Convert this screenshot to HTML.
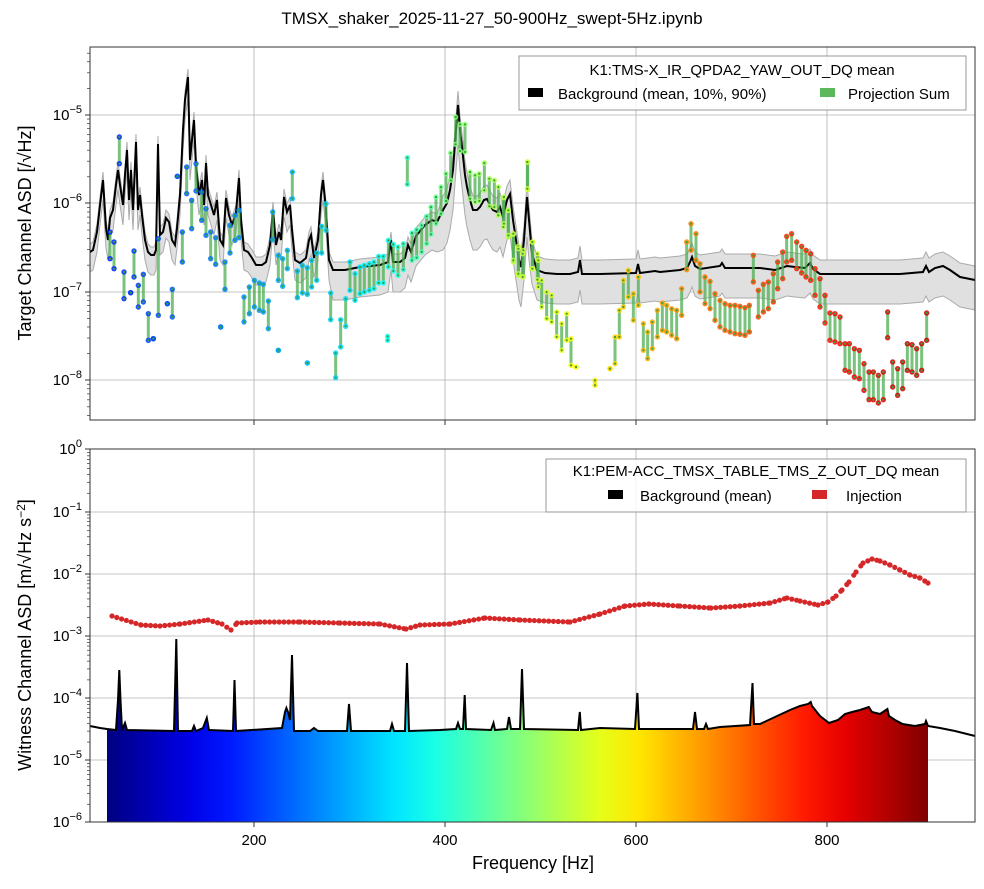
<!DOCTYPE html>
<html><head><meta charset="utf-8"><style>
body{margin:0;background:#fff;}
svg text{font-family:"Liberation Sans",Arial,sans-serif;}
</style></head><body>
<svg id="s" width="984" height="884" viewBox="0 0 984 884" xmlns="http://www.w3.org/2000/svg"></svg>
<script>
const S=document.getElementById('s');
let h='';
function jet(t){t=Math.max(0,Math.min(1,t));
 const c=v=>Math.round(255*Math.max(0,Math.min(1,v)));
 return `rgb(${c(Math.min(4*t-1.5,-4*t+4.5))},${c(Math.min(4*t-0.5,-4*t+3.5))},${c(Math.min(4*t+0.5,-4*t+2.5))})`;}
const CP=[[90,0.14],[100,0.15],[380,0.37],[450,0.5],[600,0.65],[720,0.78],[900,0.92],[980,0.95]];
function tx(x){for(let i=0;i<CP.length-1;i++){const [a,ta]=CP[i],[b,tb]=CP[i+1];if(x<=b)return ta+(tb-ta)*(x-a)/(b-a);}return 0.95;}
const jx=x=>jet(tx(x));
h+='<text x="492" y="24" font-size="17" text-anchor="middle">TMSX_shaker_2025-11-27_50-900Hz_swept-5Hz.ipynb</text>';
function grid(y0,y1,ys){let g='';
 [254,445,636,827].forEach(x=>g+=`<line x1="${x}" y1="${y0}" x2="${x}" y2="${y1}" stroke="#b0b0b0" stroke-width="0.8"/>`);
 ys.forEach(y=>g+=`<line x1="90" y1="${y}" x2="975" y2="${y}" stroke="#b0b0b0" stroke-width="0.8"/>`);return g;}
h+=grid(47,420,[115,203,292,380]);
h+=grid(449,822,[512,574,636,698,760]);
const M=[[90,252],[93,250],[97,232],[100,205],[103,180],[106,228],[108,240],[110,218],[113,210],[116,185],[118,170],[120,185],[123,205],[125,175],[127,150],[129,200],[131,170],[133,210],[136,142],[138,210],[140,195],[142,215],[145,240],[148,252],[151,255],[154,255],[156,250],[158,144],[160,235],[163,232],[166,218],[169,222],[172,240],[175,245],[177,228],[180,195],[183,130],[185,100],[188,77],[190,160],[192,140],[194,120],[196,165],[199,195],[202,180],[204,205],[206,163],[208,195],[211,205],[214,215],[217,200],[220,240],[223,245],[226,198],[229,215],[232,225],[236,213],[239,178],[241,220],[244,250],[248,252],[252,258],[256,265],[262,265],[266,262],[270,245],[273,210],[276,245],[279,232],[281,240],[284,197],[287,212],[290,205],[292,230],[295,260],[300,263],[306,258],[309,240],[311,235],[314,258],[318,240],[321,195],[323,180],[326,210],[329,260],[333,270],[345,270],[360,267],[380,265],[388,262],[391,240],[393,262],[400,262],[405,258],[408,245],[411,252],[416,236],[425,225],[432,220],[437,222],[443,210],[447,203],[450,190],[453,170],[456,130],[458,105],[460,130],[462,147],[465,175],[467,187],[470,200],[473,210],[477,210],[480,207],[484,200],[487,199],[490,205],[493,210],[497,212],[500,207],[503,217],[507,200],[510,194],[513,220],[516,240],[519,260],[521,267],[524,240],[527,197],[529,220],[532,254],[537,270],[545,273],[557,274],[570,274],[578,272],[580,260],[582,274],[600,274],[636,273],[638,264],[640,273],[655,271],[660,272],[680,270],[687,268],[690,262],[692,257],[695,266],[700,269],[720,266],[722,263],[725,268],[760,268],[775,270],[787,266],[795,267],[805,268],[810,263],[813,269],[820,274],[900,274],[923,272],[926,266],[929,272],[935,268],[943,266],[950,270],[960,277],[975,280]];
const up=M.map(([x,y])=>[x,y-(x<440?8:14)]);
const lo=M.map(([x,y])=>[x,y+(x<330?20:(x>440&&x<530?40:30))]);
const pts=a=>a.map(p=>p[0]+','+p[1]).join(' ');
h+=`<polygon points="${pts(up)} ${pts(lo.slice().reverse())}" fill="#e0e0e0" stroke="none"/>`;
h+=`<polyline points="${pts(up)}" fill="none" stroke="#aaa" stroke-width="1"/>`;
h+=`<polyline points="${pts(lo)}" fill="none" stroke="#aaa" stroke-width="1"/>`;
h+=`<polyline points="${pts(M)}" fill="none" stroke="#000" stroke-width="2"/>`;
const Z1=[[88,270,350],[60,555,635],[72,585,665],[102,675,755],[132,612,690],[145,715,780],[160,682,765],[175,800,880],[190,875,875],[205,575,805],[232,770,770],[247,727,810],[262,388,388],[277,555,645],[290,360,440],[305,460,545],[318,350,432],[335,435,520],[348,485,565],[362,555,635],[377,572,652],[392,840,840],[405,645,727],[420,535,618],[435,505,580],[447,490,572],[462,750,825],[478,720,800],[493,700,780],[508,708,790],[520,712,795],[535,762,845],[548,495,578],[565,625,700],[578,635,718],[592,610,665],[607,375,455],[622,672,752],[637,655,738],[652,662,742],[665,640,720],[680,618,700],[695,538,618],[708,470,550],[722,738,818],[737,918,992],[752,818,900],[767,755,838],[780,645,730],[795,680,760],[810,660,740],[823,655,735],[838,650,730],[852,645,725],[866,628,708],[880,628,708],[895,580,660],[910,592,672],[924,600,685],[940,590,668],[952,332,412],[966,558,640],[980,548,632],[995,535,615],[1010,508,590],[1023,480,562],[1038,450,530],[1053,420,500],[1068,380,462],[1082,318,400],[1097,210,292],[1110,232,312],[1125,232,315],[1140,375,455],[1155,385,465],[1168,380,462],[1183,348,430],[1198,395,478],[1213,400,480],[1225,420,505],[1240,452,540],[1255,490,570],[1270,562,645],[1285,598,685],[1300,610,690],[1313,345,428],[1328,585,665],[1345,640,720],[565,910,910],[652,948,948],[893,868,880],[122,737,737]];
const Z2=[[12,450,530],[25,490,565],[40,560,640],[55,605,680],[68,620,690],[82,345,425],[97,585,665],[112,620,698],[125,700,780],[140,735,815],[155,745,825],[170,795,870],[185,830,910],[200,800,880],[213,875,955],[228,960,960],[285,1000,1015],[330,965,965],[345,870,950],[358,790,870],[370,700,780],[385,670,750],[400,740,820],[415,690,775],[430,830,910],[443,855,935],[457,825,905],[472,790,870],[487,768,850],[500,775,855],[515,785,865],[530,790,875],[545,725,805],[560,585,668],[573,530,610],[588,560,640],[600,650,735],[615,690,770],[630,703,785],[645,740,820],[660,760,840],[675,770,850],[690,775,855],[705,775,860],[720,778,862],[735,782,865],[748,775,855],[760,625,705],[775,730,810],[790,712,795],[805,705,785],[820,680,765],[833,645,725],[848,615,695],[860,568,645],[875,560,640],[890,585,665],[905,598,678],[918,610,690],[932,620,700],[945,665,745],[960,695,780],[975,745,828],[990,798,880],[1005,800,885],[1020,810,890],[1035,890,970],[1048,890,975],[1063,905,990],[1078,910,995],[1092,950,1030],[1107,975,1058],[1120,975,1058],[1135,985,1068],[1150,975,1058],[1163,795,872],[1178,945,1020],[1193,965,1045],[1208,945,1025],[1222,890,970],[1236,893,975],[1250,905,985],[1265,890,970],[1280,798,880]];
const D=Z1.map(([x,a,b])=>[90+x/3,47+a/3,47+b/3]).concat(Z2.map(([x,a,b])=>[500+x/3,47+a/3,47+b/3]));
let bars='',dots='';
D.forEach(([x,a,b])=>{const c=jx(x);
 if(b-a>1)bars+=`<line x1="${x}" y1="${a}" x2="${x}" y2="${b}" stroke="#4caf50" stroke-opacity="0.75" stroke-width="3"/>`;
 dots+=`<circle cx="${x}" cy="${a}" r="2.7" fill="${c}" fill-opacity="0.85"/><circle cx="${x}" cy="${b}" r="2.7" fill="${c}" fill-opacity="0.85"/>`;
 dots+=`<circle cx="${x}" cy="${a}" r="1.1" fill="#3a9d3a"/><circle cx="${x}" cy="${b}" r="1.1" fill="#3a9d3a"/>`;});
h+=bars+dots;
let stops='';for(let i=0;i<=20;i++)stops+=`<stop offset="${i/20}" stop-color="${jet(i/20)}"/>`;
h+=`<defs><linearGradient id="jg" x1="107" x2="928" y1="0" y2="0" gradientUnits="userSpaceOnUse">${stops}</linearGradient></defs>`;
const W=[[90,726],[100,728],[107,729],[116,730],[118,700],[119.3,670],[120.5,700],[122,730],[125,723],[127,730],[174,731],[176.3,639],[178,731],[192,731],[194,726],[196,731],[203,728],[206.8,718],[209,730],[233,731],[234.5,680],[236,731],[282,728],[285,712],[286.4,708],[288,712],[290,720],[292,655],[294,731],[310,731],[314,728],[318,731],[347,731],[349,704],[351,731],[390,731],[392,724],[394,731],[405,731],[407,663],[409,731],[440,730],[456,729],[458,723],[460,729],[463,729],[464.7,695],[466,729],[491,730],[493.5,723],[495,730],[507,729],[509,717],[511,729],[520,729],[522,669],[524,729],[578,730],[579.8,712],[581,730],[600,728],[635,729],[637.4,693],[639,729],[693,729],[695,712],[697,729],[704,729],[706,724],[708,729],[720,727],[750,725],[752.5,683],[754,724],[760,724],[775,717],[790,710],[800,706],[808,704],[810.7,702],[812,706],[820,716],[829,723],[838,720],[845,714],[852,712],[860,710],[866,708],[868.8,707],[872,712],[880,714],[887.4,709],[889,716],[895,720],[902.6,724],[915,726],[925,724],[926,721],[928,726],[940,728],[955,731],[975,736]];
const Wf=W.filter(p=>p[0]>=107&&p[0]<=928);
h+=`<polygon points="107,822 ${pts(Wf)} 928,822" fill="url(#jg)"/>`;
h+=`<polyline points="${pts(W)}" fill="none" stroke="#000" stroke-width="2"/>`;
const R=[[112,616],[141,625],[160,626],[180,624],[208,620],[222,624],[231,630],[237,623],[260,622],[300,622],[340,623],[380,624],[406,629],[420,625],[450,624],[485,618],[520,620],[570,622],[600,614],[625,606],[649,604],[680,606],[711,608],[740,606],[770,603],[787,598],[800,601],[818,605],[828,602],[836,596],[842,590],[849,582],[856,572],[863,563],[872,559],[880,561],[890,565],[900,570],[910,575],[920,578],[928,583]];
let rp=[];for(let i=0;i<R.length-1;i++){const [x0,y0]=R[i],[x1,y1]=R[i+1];
 for(let x=x0;x<x1;x+=4.78){rp.push([x,y0+(y1-y0)*(x-x0)/(x1-x0)]);}}rp.push(R[R.length-1]);
rp.forEach(([x,y])=>h+=`<circle cx="${x}" cy="${y}" r="2.6" fill="#d62728"/>`);
h+=`<rect x="90" y="47" width="885" height="373" fill="none" stroke="#333" stroke-width="1"/>`;
h+=`<rect x="90" y="449" width="885" height="373" fill="none" stroke="#333" stroke-width="1"/>`;
[254,445,636,827].forEach((x,i)=>{h+=`<line x1="${x}" y1="420" x2="${x}" y2="425" stroke="#333"/><line x1="${x}" y1="822" x2="${x}" y2="827" stroke="#333"/>`;
 h+=`<text x="${x}" y="845" font-size="15" text-anchor="middle">${[200,400,600,800][i]}</text>`;});
function ylab(y,e){return `<line x1="85" y1="${y}" x2="90" y2="${y}" stroke="#333"/><text x="82" y="${y+5}" font-size="15" text-anchor="end">10<tspan dy="-7" font-size="11">${e}</tspan></text>`;}
[[115,'−5'],[203,'−6'],[292,'−7'],[380,'−8']].forEach(([y,e])=>h+=ylab(y,e));
[[449,'0'],[512,'−1'],[574,'−2'],[636,'−3'],[698,'−4'],[760,'−5'],[822,'−6']].forEach(([y,e])=>h+=ylab(y,e));
function minors(top,dec,n){for(let k=0;k<n;k++)for(let m=2;m<10;m++){const y=top+dec*k-Math.log10(m)*dec;h+=`<line x1="87" y1="${y}" x2="90" y2="${y}" stroke="#333" stroke-width="0.7"/>`;}}
for(let k=-1;k<5;k++)for(let m=2;m<10;m++){const y=115+88.4*k-Math.log10(m)*88.4;if(y>47&&y<420)h+=`<line x1="87" y1="${y}" x2="90" y2="${y}" stroke="#333" stroke-width="0.7"/>`;}
minors(512,62.2,6);
h+=`<text transform="translate(31,233) rotate(-90)" font-size="18" text-anchor="middle">Target Channel ASD [/√Hz]</text>`;
h+=`<text transform="translate(31,635) rotate(-90)" font-size="18" text-anchor="middle">Witness Channel ASD [m/√Hz s<tspan dy="-6" font-size="12">−2</tspan><tspan dy="6">]</tspan></text>`;
h+=`<text x="533" y="869" font-size="18" text-anchor="middle">Frequency [Hz]</text>`;
h+=`<rect x="519" y="56" width="447" height="54" fill="#fff" fill-opacity="0.85" stroke="#999"/>`;
h+=`<text x="742" y="75" font-size="15" text-anchor="middle">K1:TMS-X_IR_QPDA2_YAW_OUT_DQ mean</text>`;
h+=`<rect x="528" y="88" width="15" height="9" fill="#000"/><text x="558" y="99" font-size="15">Background (mean, 10%, 90%)</text>`;
h+=`<rect x="820" y="88" width="15" height="9" fill="#5cb85c"/><text x="848" y="99" font-size="15">Projection Sum</text>`;
h+=`<rect x="546" y="459" width="420" height="53" fill="#fff" fill-opacity="0.85" stroke="#999"/>`;
h+=`<text x="756" y="476" font-size="15" text-anchor="middle">K1:PEM-ACC_TMSX_TABLE_TMS_Z_OUT_DQ mean</text>`;
h+=`<rect x="608" y="490" width="15" height="9" fill="#000"/><text x="640" y="501" font-size="15">Background (mean)</text>`;
h+=`<rect x="812" y="490" width="15" height="9" fill="#d62728"/><text x="846" y="501" font-size="15">Injection</text>`;
S.innerHTML=h;
</script>
</body></html>
